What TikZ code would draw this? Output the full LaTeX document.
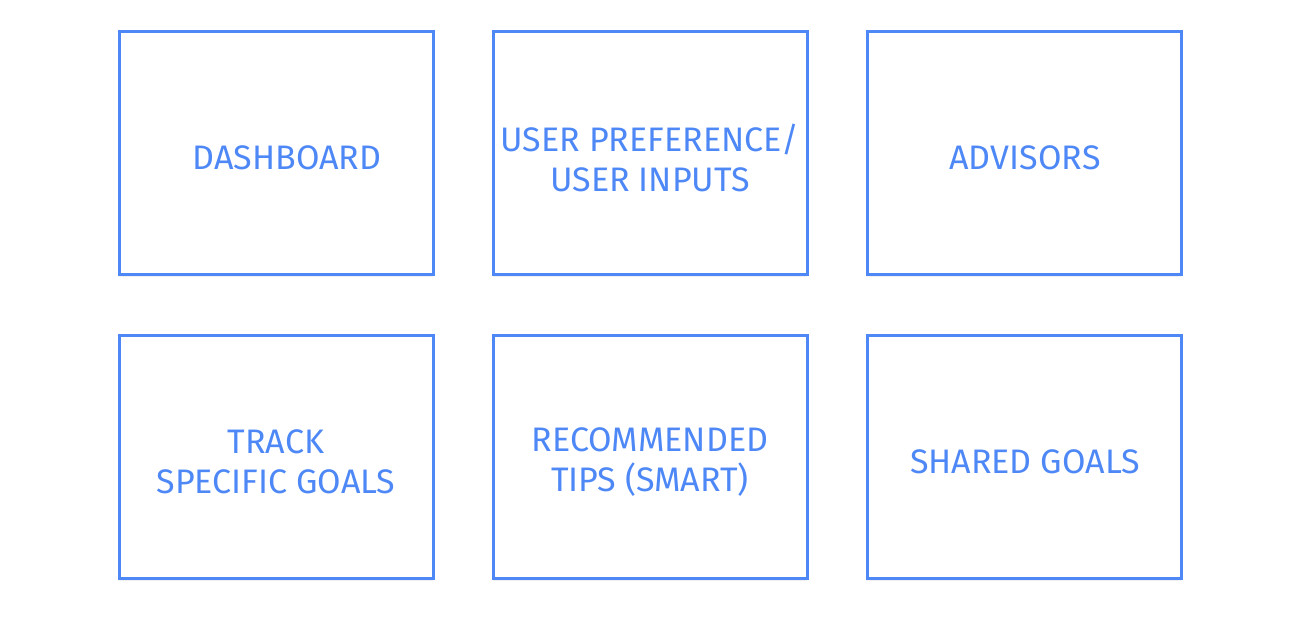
\documentclass[tikz,border=0pt]{standalone}
\usepackage{fontspec}
\setmainfont{Fira Sans}
\usetikzlibrary{shadows}
\definecolor{boxblue}{RGB}{77,136,246}
\begin{document}
\begin{tikzpicture}[x=1pt,y=1pt,
  card/.style={draw=boxblue,line width=3pt,fill=white,minimum width=314pt,minimum height=243pt,inner sep=0pt,
    drop shadow={opacity=0.12,shadow xshift=0pt,shadow yshift=-2.5pt}},
  lbl/.style={text=boxblue,font=\fontsize{34}{40}\selectfont,align=center,inner sep=0pt}]
\useasboundingbox (0,0) rectangle (1300,-635);
\node[card] (b1) at (276,-152.5) {};
\node[card] (b2) at (650,-152.5) {};
\node[card] (b3) at (1024,-152.5) {};
\node[card] (b4) at (276,-457) {};
\node[card] (b5) at (650,-457) {};
\node[card] (b6) at (1024,-457) {};
\node[lbl] (t1) at ([xshift=11pt,yshift=-5pt]b1.center) {DASHBOARD};
\node[lbl] (t2) at ([yshift=-5pt]b2.center) {USER PREFERENCE/\\USER INPUTS};
\node[lbl] (t3) at ([xshift=1pt,yshift=-5pt]b3.center) {ADVISORS};
\node[lbl] (t4) at ([yshift=-5pt]b4.center) {TRACK\\SPECIFIC GOALS};
\node[lbl] (t5) at ([yshift=-5pt]b5.center) {RECOMMENDED\\TIPS (SMART)};
\node[lbl] (t6) at ([xshift=1pt,yshift=-5pt]b6.center) {SHARED GOALS};
\end{tikzpicture}
\end{document}
